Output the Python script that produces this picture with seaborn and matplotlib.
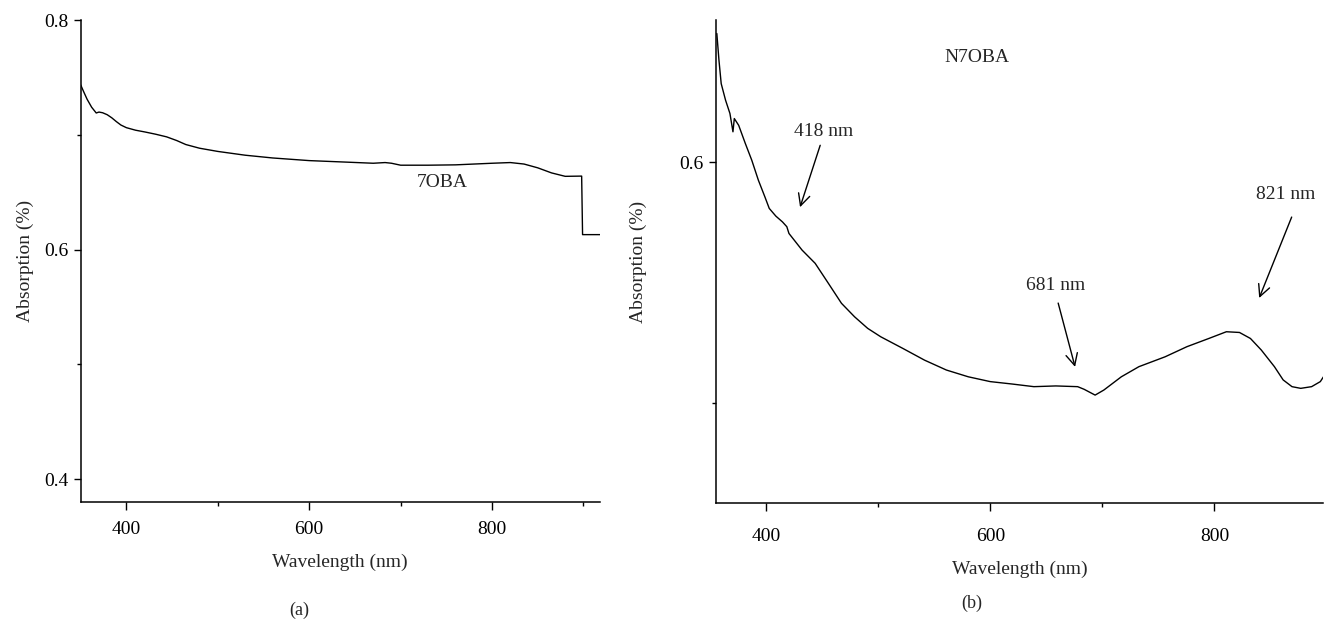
import numpy as np
import pandas as pd
import matplotlib
matplotlib.use("Agg")
import matplotlib.pyplot as plt
import seaborn as sns
from matplotlib.ticker import MultipleLocator, FormatStrFormatter

# --- DATA ---
# (a) 7OBA
wl_a = [350, 353, 357, 362, 367, 370, 374, 379, 384, 389, 394, 400, 410, 420,
        432, 444, 455, 465, 480, 500, 530, 560, 600, 640, 670, 683, 690, 700,
        730, 760, 800, 820, 835, 850, 865, 880, 898, 899, 918]
abs_a = [0.7435, 0.738, 0.731, 0.724, 0.719, 0.7198, 0.7192, 0.7175, 0.7148,
         0.7115, 0.7085, 0.7062, 0.704, 0.7025, 0.7005, 0.6982, 0.695, 0.6915,
         0.6883, 0.6855, 0.6822, 0.6798, 0.6775, 0.6762, 0.6752, 0.6758,
         0.6752, 0.6735, 0.6735, 0.6738, 0.6752, 0.6758, 0.6745, 0.6712,
         0.6668, 0.6638, 0.6640, 0.6130, 0.6130]

# (b) N7OBA
wl_b = [355.7, 357.6, 359.6, 363.5, 367.4, 370.1, 371.3, 375.2, 381.1, 386.9,
        392.8, 398.6, 402.5, 408.4, 414.3, 418.2, 420.1, 431.8, 443.5, 455.3,
        467.0, 478.7, 490.4, 502.1, 521.7, 541.2, 560.7, 580.2, 599.8, 619.3,
        638.8, 658.4, 677.9, 683.7, 693.5, 701.3, 716.9, 732.6, 756.0, 775.5,
        795.0, 810.7, 822.4, 832.2, 841.9, 853.6, 861.4, 869.3, 877.1, 886.8,
        894.6, 897.4]
abs_b = [0.6534, 0.6423, 0.6326, 0.6257, 0.6202, 0.6126, 0.6181, 0.6153,
         0.6078, 0.6008, 0.5925, 0.5856, 0.5808, 0.5776, 0.5752, 0.5732,
         0.5704, 0.5635, 0.5580, 0.5497, 0.5414, 0.5358, 0.5310, 0.5275,
         0.5227, 0.5178, 0.5137, 0.5109, 0.5089, 0.5079, 0.5068, 0.5071,
         0.5068, 0.5057, 0.5033, 0.5054, 0.5109, 0.5151, 0.5192, 0.5234,
         0.5268, 0.5296, 0.5293, 0.5268, 0.5220, 0.5151, 0.5096, 0.5068,
         0.5061, 0.5068, 0.5089, 0.5109]

# peak annotations: label, text position, arrow start, arrow end
peak_labels = ["418 nm", "681 nm", "821 nm"]
peak_text = [(451, 0.6129), (658, 0.549), (864, 0.5867)]
arrow_from = [(448, 0.607), (660.5, 0.5415), (869, 0.5772)]
arrow_to = [(430, 0.5813), (675.6, 0.515), (840, 0.5436)]

df_a = pd.DataFrame({"Wavelength": wl_a, "Absorption": abs_a})
df_b = pd.DataFrame({"Wavelength": wl_b, "Absorption": abs_b})

# --- STYLE ---
sns.set_style("ticks")
plt.rcParams["font.family"] = ["Liberation Serif", "DejaVu Serif"]
plt.rcParams["font.size"] = 14
plt.rcParams["axes.linewidth"] = 1.1
plt.rcParams["xtick.major.size"] = 6
plt.rcParams["ytick.major.size"] = 5
plt.rcParams["xtick.minor.size"] = 3
plt.rcParams["ytick.minor.size"] = 3
for k in ("xtick.major.width", "ytick.major.width",
          "xtick.minor.width", "ytick.minor.width"):
    plt.rcParams[k] = 1.0
plt.rcParams["xtick.color"] = "black"
plt.rcParams["ytick.color"] = "black"
plt.rcParams["axes.edgecolor"] = "black"

fig = plt.figure(figsize=(13.27, 6.22), dpi=100)
ax1 = fig.add_axes([0.0608, 0.1929, 0.3913, 0.7749])
ax2 = fig.add_axes([0.5396, 0.1913, 0.4574, 0.7765])

# --- PANEL (a) ---
sns.lineplot(data=df_a, x="Wavelength", y="Absorption", ax=ax1,
             color="black", lw=1.0, sort=False)
ax1.set_xlim(350, 918)
ax1.set_ylim(0.38, 0.8)
ax1.yaxis.set_major_locator(MultipleLocator(0.2))
ax1.yaxis.set_minor_locator(MultipleLocator(0.1))
ax1.text(746, 0.658, "7OBA", ha="center", va="center", fontsize=14)

# --- PANEL (b) ---
sns.lineplot(data=df_b, x="Wavelength", y="Absorption", ax=ax2,
             color="black", lw=1.0, sort=False)
ax2.set_xlim(355, 897)
ax2.set_ylim(0.4585, 0.659)
ax2.yaxis.set_major_locator(MultipleLocator(0.2))
ax2.yaxis.set_minor_locator(MultipleLocator(0.1))
ax2.text(588, 0.6436, "N7OBA", ha="center", va="center", fontsize=14)
for lab, tp, a0, a1 in zip(peak_labels, peak_text, arrow_from, arrow_to):
    ax2.text(tp[0], tp[1], lab, ha="center", va="center", fontsize=14)
    ax2.annotate("", xy=a1, xytext=a0,
                 arrowprops=dict(arrowstyle="->,head_length=0.6,head_width=0.3",
                                 lw=1.0, color="black", shrinkA=0, shrinkB=0))

for ax in (ax1, ax2):
    sns.despine(ax=ax)
    ax.xaxis.set_major_locator(MultipleLocator(200))
    ax.xaxis.set_minor_locator(MultipleLocator(100))
    ax.xaxis.set_major_formatter(FormatStrFormatter("%d"))
    ax.yaxis.set_major_formatter(FormatStrFormatter("%.1f"))
    ax.tick_params(axis="y", which="major", pad=4, labelsize=14)

ax1.tick_params(axis="x", which="major", pad=8, labelsize=14)
ax2.tick_params(axis="x", which="major", pad=12, labelsize=14)
ax1.set_xlabel("Wavelength (nm)", fontsize=14, labelpad=11)
ax2.set_xlabel("Wavelength (nm)", fontsize=14, labelpad=11)
ax1.set_ylabel("Absorption (%)", fontsize=14, labelpad=7)
ax2.set_ylabel("Absorption (%)", fontsize=14, labelpad=23)

fig.text(0.2253, 0.0193, "(a)", ha="center", va="center", fontsize=13)
fig.text(0.7325, 0.0305, "(b)", ha="center", va="center", fontsize=13)

fig.savefig("out.png", dpi=100)
